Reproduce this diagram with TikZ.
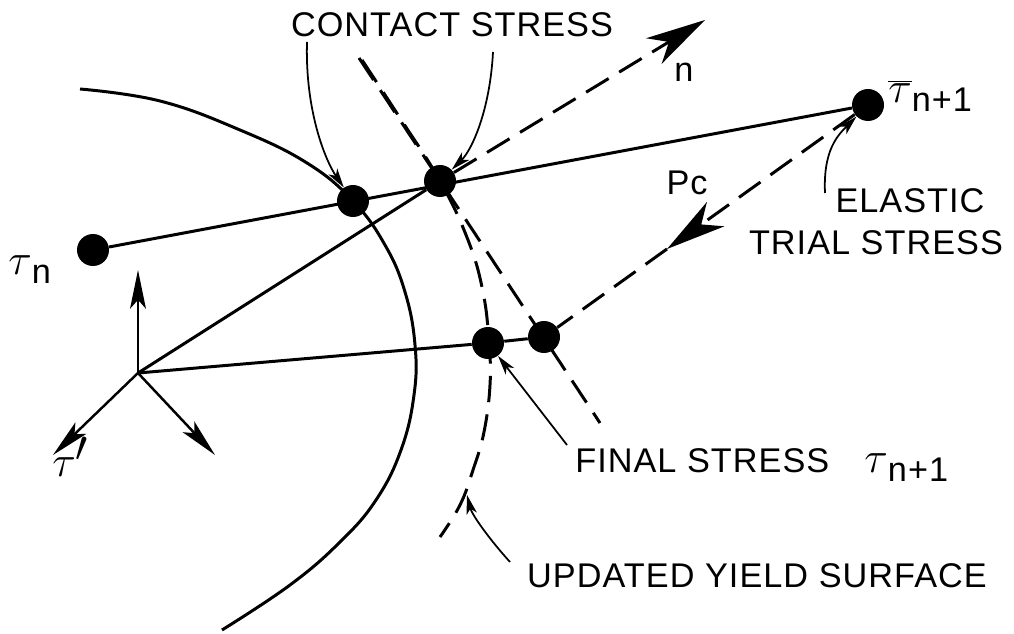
\documentclass[tikz,border=0pt]{standalone}
\usepackage{fontspec}
\setmainfont{Liberation Sans}[LetterSpace=3]
\setsansfont{Liberation Sans}
\usepackage{xcolor}
\usepackage{tikz}
\usetikzlibrary{arrows.meta}

\newcommand{\taugr}[1]{{\fontsize{34}{34}\selectfont$#1$}}
\newcommand{\subi}[1]{\raisebox{-5pt}{#1}}

\tikzset{
  stressdot/.style={circle, fill=black, inner sep=0pt, minimum size=0.64cm},
  lettering/.style={font=\fontsize{19.5}{22}\selectfont, inner sep=0pt},
  solidline/.style={line width=1.7pt},
  dashline/.style={line width=1.7pt, dash pattern=on 15pt off 7pt},
  pointer/.style={line width=1pt, -{Stealth[length=11pt, width=6pt, inset=3pt]}},
  bigtip/.style={-{Stealth[length=34pt, width=17pt, inset=10pt]}},
  axisarrow/.style={line width=1.4pt, -{Stealth[length=22pt, width=9pt, inset=5pt]}},
}

\begin{document}
\begin{tikzpicture}[x=0.02cm, y=-0.02cm]
  \useasboundingbox (0,0) rectangle (1014,634);

  % Superficie de fluencia inicial
  \draw[solidline] plot[smooth, tension=0.7] coordinates {(80,89) (160,101) (240,130) (307,163) (353,201) (385,245) (405,292) (415,345) (414,395) (401,450) (376,500) (340,542) (290,585) (222,630)};

  % Superficie de fluencia actualizada y plano tangente
  \draw[dashline] plot[smooth, tension=0.7] coordinates {(362,60) (400,118) (440,181) (468,240) (483,292) (489,343) (490,385) (484,432) (473,470) (460,505) (440,537)};
  \coordinate (tgA) at (359,58);
  \coordinate (tgB) at (600,423);
  \draw[dashline] (tgA) -- (tgB);

  % Estados de tension
  \node[stressdot] (tn) at (93,250) {};
  \node[stressdot] (cont1) at (353,201) {};
  \node[stressdot] (cont2) at (440,181) {};
  \node[stressdot] (ttrial) at (868,105) {};
  \node[stressdot] (final) at (488,343) {};
  \node[stressdot] (proj) at (544,337) {};

  % Ejes
  \coordinate (O) at (138,373);
  \coordinate (axUp) at (138,270);
  \coordinate (axLeft) at (53,455);
  \coordinate (axRight) at (215,455);
  \draw[axisarrow] (O) -- (axUp);
  \draw[axisarrow] (O) -- (axLeft);
  \draw[axisarrow] (O) -- (axRight);

  % Trayectorias
  \draw[solidline] (tn) -- (ttrial);
  \draw[solidline] (O) -- (cont2);
  \draw[solidline] (O) -- (final);
  \draw[dashline] (final) -- (proj);
  \coordinate (ntip) at (705,20);
  \draw[dashline, bigtip] (cont2) -- (ntip);
  \coordinate (pctip) at (667,249);
  \draw[dashline, bigtip] (ttrial) -- (pctip);
  \draw[dashline] (pctip) -- (proj);

  % Textos
  \node[lettering, anchor=base] (contact) at (452,37) {CONTACT STRESS};
  \node[lettering, anchor=base] (nlab) at (684,82) {n};
  \node[lettering, anchor=base] (pclab) at (687,195) {Pc};
  \node[lettering, anchor=base] (elastic) at (910,213) {ELASTIC};
  \node[lettering, anchor=base] (trial) at (876,255) {TRIAL STRESS};
  \node[lettering, anchor=base west] (finallab) at (575,473) {FINAL STRESS\hspace{20pt}\taugr{\tau}\subi{n+1}};
  \node[lettering, anchor=base] (updated) at (757,587) {UPDATED YIELD SURFACE};
  \node[lettering, anchor=base west] (tnlab) at (8,275) {\taugr{\tau}\subi{n}};
  \node[lettering, anchor=base west] (tbarlab) at (888,103) {\taugr{\overline{\tau}}\subi{n+1}};
  \node[lettering, anchor=base west] (tprime) at (52,477) {\taugr{\tau'}};

  % Flechas indicadoras
  \coordinate (ptA) at (307,42);
  \coordinate (ptB) at (493,52);
  \coordinate (ptC) at (825,193);
  \coordinate (ptD) at (567,445);
  \coordinate (ptE) at (510,562);
  \coordinate (upTip) at (467,495);
  \draw[pointer] (ptA) .. controls (305,110) and (325,160) .. (cont1);
  \draw[pointer] (ptB) .. controls (490,110) and (472,150) .. (cont2);
  \draw[pointer] (ptC) .. controls (823,150) and (838,135) .. (ttrial);
  \draw[pointer] (ptD) -- (final);
  \draw[pointer] (ptE) .. controls (490,540) and (472,515) .. (upTip);
\end{tikzpicture}
\end{document}
